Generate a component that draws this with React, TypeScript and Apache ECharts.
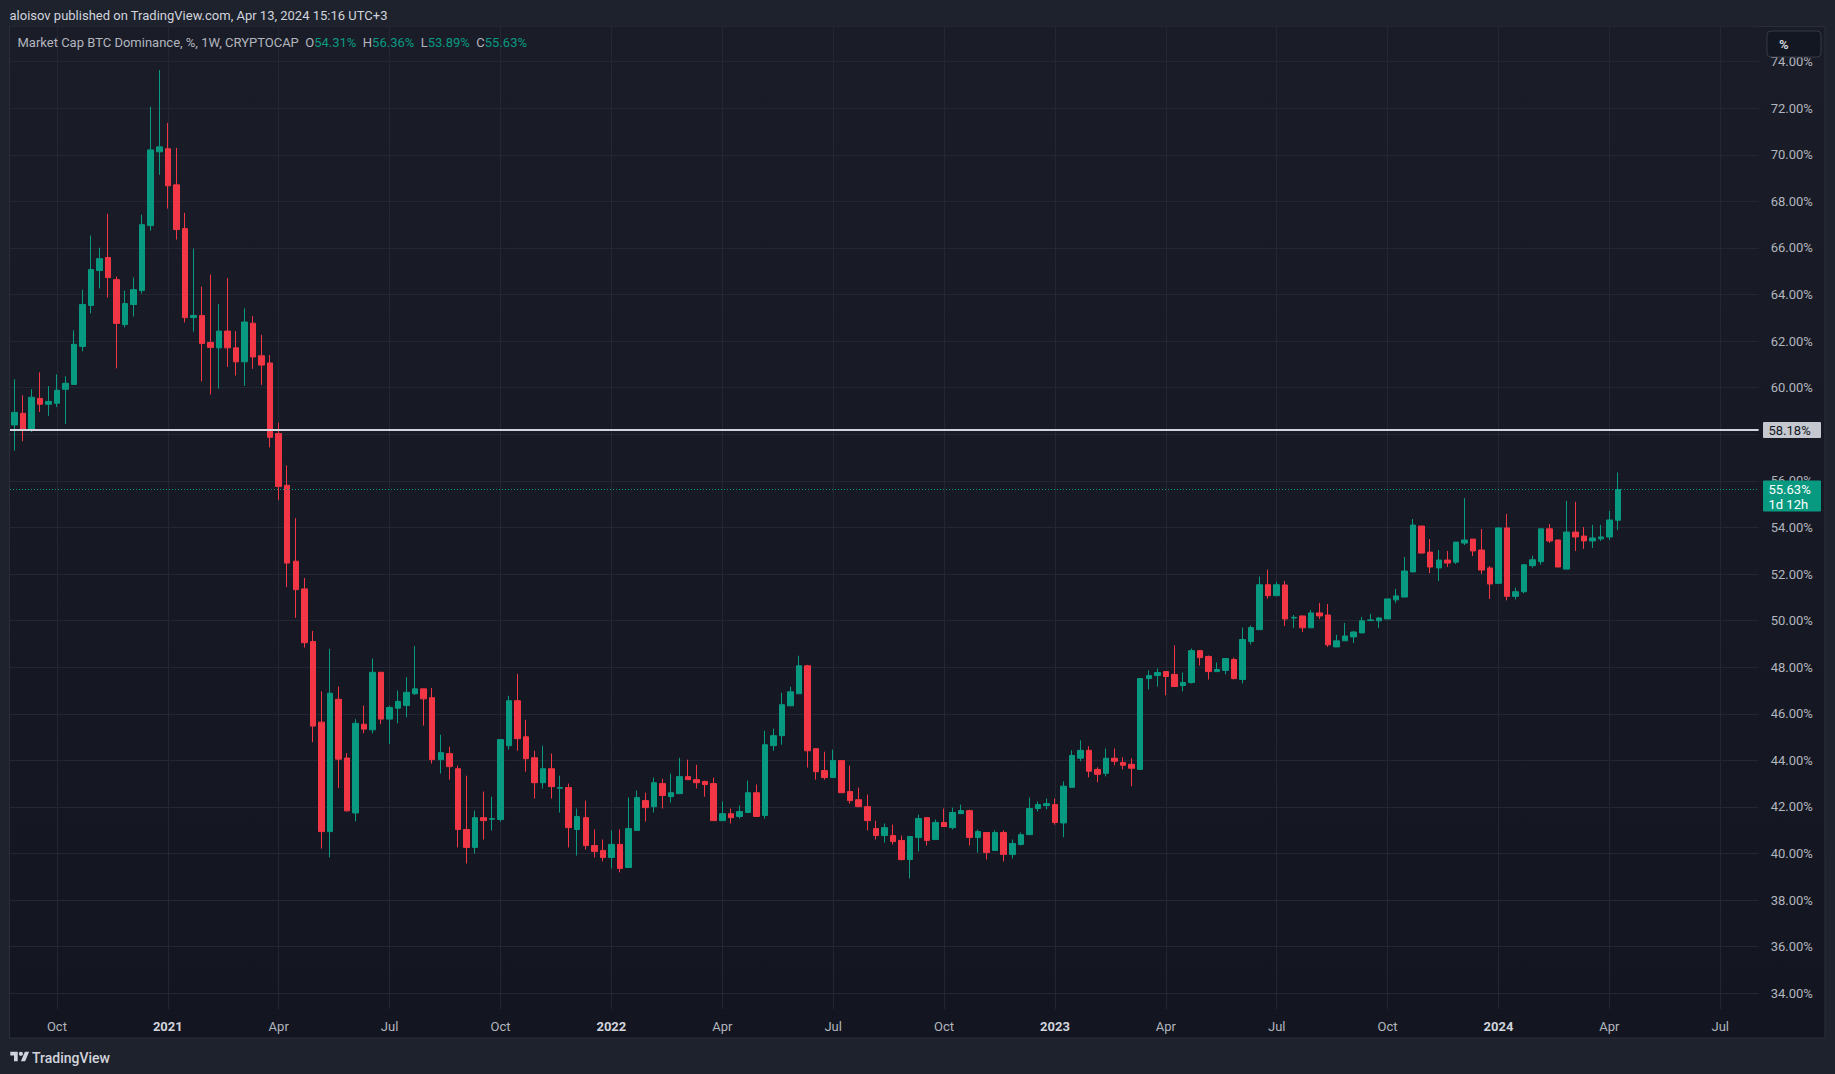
import React, { useEffect, useRef } from "react";
import * as echarts from "echarts";

// ---------- DATA ----------
const START_DATE_UTC = Date.UTC(2020, 7, 31); // first weekly bar (Mon, Aug 31 2020)
const WEEK_COUNT = 205; // bars + empty future weeks shown on the time scale

const opens = [
  58.40, 58.90, 58.17, 59.54, 59.29, 59.33, 59.93, 60.14, 61.77, 63.53,
  65.03, 65.59, 64.64, 62.71, 63.57, 64.17, 66.96, 70.13, 70.26, 68.71,
  66.83, 63.01, 63.10, 61.94, 61.71, 62.43, 61.71, 61.11, 62.77, 61.37,
  61.06, 58.03, 55.81, 52.55, 51.36, 49.10, 45.64, 40.94, 46.62, 44.10,
  41.74, 45.55, 45.31, 47.78, 45.77, 46.24, 46.35, 46.86, 47.07, 46.69,
  44.03, 44.29, 43.64, 41.03, 40.26, 41.54, 41.47, 41.46, 44.63, 46.56,
  45.01, 44.11, 43.04, 43.64, 42.80, 42.83, 41.03, 41.54, 40.34, 40.13,
  39.83, 40.39, 39.40, 40.99, 42.27, 42.01, 43.00, 42.44, 42.57, 43.30,
  43.17, 43.09, 43.00, 41.41, 41.71, 41.59, 41.76, 42.61, 41.63, 44.63,
  45.06, 46.34, 46.86, 48.06, 44.50, 43.56, 43.26, 43.99, 42.66, 42.31,
  42.01, 41.07, 40.77, 40.77, 40.56, 39.74, 40.69, 41.54, 40.60, 41.33,
  41.11, 41.71, 41.84, 40.69, 40.90, 40.13, 40.90, 39.96, 40.39, 40.81,
  41.93, 42.06, 42.10, 41.31, 42.84, 44.09, 44.43, 43.61, 43.44, 44.09,
  43.91, 43.83, 43.61, 47.51, 47.64, 47.81, 47.69, 47.21, 47.34, 48.71,
  48.46, 47.81, 47.86, 48.33, 47.47, 49.10, 49.61, 51.54, 51.07, 51.53,
  50.11, 50.20, 49.69, 50.33, 50.24, 48.87, 49.13, 49.30, 49.47, 50.00,
  49.99, 50.07, 50.89, 51.01, 52.09, 54.06, 52.94, 52.26, 52.60, 52.51,
  53.33, 53.50, 53.03, 52.26, 51.60, 53.98, 51.04, 51.24, 52.36, 52.53,
  53.94, 53.46, 52.21, 53.80, 53.63, 53.42, 53.51, 53.59, 54.31,
];

const highs = [
  60.36, 59.67, 59.93, 60.66, 60.06, 60.57, 60.49, 62.46, 64.21, 66.53,
  66.01, 67.47, 64.77, 64.17, 64.73, 67.43, 72.06, 73.64, 71.37, 70.30,
  67.51, 65.97, 64.34, 64.86, 63.59, 64.70, 62.43, 63.41, 63.07, 62.27,
  61.40, 58.50, 56.66, 54.40, 51.83, 49.56, 46.96, 48.79, 47.17, 44.31,
  45.77, 46.35, 48.37, 47.80, 46.35, 47.00, 47.57, 48.91, 47.07, 47.11,
  45.10, 44.59, 43.77, 43.34, 41.84, 42.66, 42.44, 44.89, 46.77, 47.71,
  45.74, 44.41, 44.63, 44.29, 43.34, 43.00, 41.93, 42.27, 41.03, 40.60,
  40.99, 41.03, 42.40, 42.70, 42.61, 43.26, 43.21, 43.43, 44.11, 44.03,
  43.81, 43.13, 43.26, 42.23, 41.93, 42.06, 43.13, 42.96, 45.27, 45.36,
  46.90, 47.16, 48.49, 48.10, 44.50, 44.37, 44.46, 44.00, 43.77, 42.83,
  42.53, 41.41, 41.29, 41.24, 40.77, 40.73, 41.67, 41.54, 41.46, 41.93,
  41.97, 42.10, 41.89, 41.03, 40.90, 40.99, 40.99, 40.60, 40.90, 42.40,
  42.23, 42.36, 42.36, 43.10, 44.43, 44.86, 44.60, 43.70, 44.51, 44.51,
  44.13, 44.09, 47.51, 47.86, 47.94, 47.81, 48.93, 47.77, 48.80, 48.71,
  48.50, 48.20, 48.37, 48.41, 49.70, 49.79, 51.89, 52.19, 51.67, 51.70,
  50.24, 50.20, 50.46, 50.76, 50.71, 49.39, 49.90, 49.56, 50.16, 50.29,
  50.16, 50.93, 51.36, 52.73, 54.36, 54.06, 53.50, 53.03, 52.99, 53.37,
  55.26, 53.50, 53.93, 52.34, 53.98, 54.58, 51.41, 52.40, 52.79, 53.94,
  54.15, 53.46, 55.14, 55.10, 54.02, 54.11, 54.11, 54.71, 56.36,
];

const lows = [
  57.30, 57.70, 58.10, 58.96, 58.79, 59.17, 58.44, 60.14, 61.56, 63.19,
  64.26, 63.87, 60.83, 62.59, 63.06, 64.04, 66.74, 69.14, 67.69, 66.36,
  62.80, 62.41, 60.27, 59.71, 59.96, 60.89, 60.52, 60.08, 60.81, 60.12,
  57.44, 55.17, 51.44, 50.12, 48.84, 44.78, 40.21, 39.83, 42.82, 41.80,
  41.38, 45.16, 45.16, 45.55, 44.70, 45.59, 45.85, 46.81, 45.49, 43.86,
  43.43, 43.17, 40.26, 39.57, 40.00, 40.60, 40.99, 41.37, 44.46, 44.41,
  43.51, 42.36, 42.79, 42.36, 41.76, 40.26, 39.91, 40.17, 39.83, 39.66,
  39.36, 39.19, 39.40, 40.99, 41.37, 41.76, 41.93, 42.19, 42.57, 43.17,
  42.79, 42.44, 41.41, 41.41, 41.29, 41.50, 41.76, 41.59, 41.50, 44.41,
  44.67, 46.34, 46.86, 43.69, 43.17, 43.17, 43.26, 42.61, 42.14, 42.01,
  40.99, 40.60, 40.47, 40.39, 39.70, 38.93, 40.09, 40.34, 40.60, 41.16,
  41.03, 41.71, 40.34, 40.04, 39.74, 40.13, 39.66, 39.79, 40.34, 40.81,
  41.80, 41.89, 41.24, 40.70, 42.84, 43.96, 43.27, 43.06, 43.31, 43.79,
  43.61, 42.89, 43.61, 47.04, 47.17, 46.79, 47.17, 46.96, 47.30, 48.07,
  47.47, 47.81, 47.69, 47.47, 47.30, 48.97, 49.61, 50.94, 51.07, 49.77,
  49.69, 49.51, 49.69, 50.07, 48.87, 48.87, 49.13, 49.04, 49.47, 50.00,
  49.69, 50.07, 50.76, 51.01, 52.09, 52.90, 52.04, 51.70, 52.30, 52.43,
  53.24, 52.77, 52.00, 50.93, 51.60, 50.87, 50.91, 51.17, 52.27, 52.40,
  53.33, 52.30, 52.21, 52.99, 53.08, 53.12, 53.42, 53.46, 53.89,
];

const closes = [
  58.94, 58.17, 59.59, 59.29, 59.41, 59.89, 60.19, 61.86, 63.57, 65.07,
  65.54, 64.73, 62.76, 63.61, 64.21, 67.00, 70.21, 70.34, 68.67, 66.79,
  63.01, 63.10, 61.90, 61.73, 62.43, 61.71, 61.11, 62.82, 61.32, 60.97,
  57.87, 55.76, 52.47, 51.33, 49.05, 45.47, 40.94, 46.88, 44.05, 41.83,
  45.59, 45.34, 47.78, 45.77, 46.27, 46.53, 46.92, 47.07, 46.64, 44.03,
  44.33, 43.73, 41.03, 40.26, 41.54, 41.41, 41.50, 44.89, 46.56, 44.93,
  44.07, 43.04, 43.64, 42.87, 42.83, 41.11, 41.59, 40.34, 40.09, 39.83,
  40.39, 39.36, 41.07, 42.40, 41.97, 43.04, 42.49, 42.61, 43.30, 43.17,
  43.04, 42.96, 41.41, 41.71, 41.54, 41.80, 42.61, 41.59, 44.67, 45.06,
  46.39, 46.94, 48.06, 44.41, 43.51, 43.26, 43.99, 42.61, 42.27, 42.01,
  41.41, 40.77, 41.11, 40.51, 39.74, 40.73, 41.50, 40.56, 41.33, 41.16,
  41.76, 41.84, 40.69, 40.94, 40.04, 40.90, 39.96, 40.43, 40.81, 41.93,
  42.10, 42.14, 41.33, 42.89, 44.21, 44.43, 43.53, 43.40, 44.09, 43.96,
  43.79, 43.66, 47.51, 47.64, 47.77, 47.60, 47.17, 47.34, 48.71, 48.41,
  47.81, 47.90, 48.37, 47.51, 49.19, 49.70, 51.54, 51.07, 51.54, 50.07,
  50.14, 49.69, 50.33, 50.20, 48.96, 49.13, 49.34, 49.51, 49.99, 50.03,
  50.11, 50.93, 51.06, 52.13, 54.10, 52.90, 52.30, 52.60, 52.47, 53.37,
  53.46, 52.99, 52.17, 51.57, 53.98, 51.04, 51.24, 52.40, 52.61, 53.94,
  53.42, 52.30, 53.80, 53.59, 53.42, 53.55, 53.59, 54.32, 55.63,
];

const horizontalLevel = 58.18;
const countdownText = "1d 12h";
const publishedText = "aloisov published on TradingView.com, Apr 13, 2024 15:16 UTC+3";
const symbolTitle = "Market Cap BTC Dominance, %, 1W, CRYPTOCAP";
const monthNames = ["Jan", "Feb", "Mar", "Apr", "May", "Jun", "Jul", "Aug", "Sep", "Oct", "Nov", "Dec"];
const quarterMonths = [1, 4, 7, 10];
const yMin = 33.28;
const yMax = 75.53;

// ---------- STYLE ----------
const FONT = "Roboto, 'Noto Sans', sans-serif";
const UP = "#089981";
const DOWN = "#f23645";
const OUTER_BG = "#1e222d";
const GRID = "#232733";
const AXIS_TEXT = "#b2b5be";
const TEXT = "#d1d4dc";
const PANE_BOTTOM = "#131620";

echarts.graphic.registerShape(
  "tvlogo",
  echarts.graphic.extendPath(
    "M14 22H7V11H0V4h14v18zM28 22h-8l7.5-18h8L28 22zM24 8a4 4 0 1 1-8 0a4 4 0 1 1 8 0z",
    {}
  )
);

const categories: string[] = [];
for (let i = 0; i < WEEK_COUNT; i++) {
  categories.push(new Date(START_DATE_UTC + i * 7 * 86400000).toISOString().slice(0, 10));
}

const isQuarterStart = (v: string) => {
  const m = +v.slice(5, 7);
  const d = +v.slice(8, 10);
  return d <= 7 && quarterMonths.includes(m);
};

const fmtPct = (v: number) => v.toFixed(2) + "%";

const candleData = opens.map((o, i) => [o, closes[i], lows[i], highs[i]]);
const last = opens.length - 1;

function baseGraphics(): any[] {
  return [
    {
      type: "rect",
      id: "pane",
      z: -10,
      silent: true,
      shape: { x: 9.5, y: 26.5, width: 1815.5, height: 1011.5 },
      style: {
        fill: new echarts.graphic.LinearGradient(0, 0, 0, 1, [
          { offset: 0, color: "#1a1d28" },
          { offset: 1, color: PANE_BOTTOM },
        ]),
        stroke: "#2a2e39",
        lineWidth: 1,
      },
    },
    {
      // hides the split line drawn at the axis extent (bottom edge of the plot)
      type: "rect",
      id: "bottomcover",
      z: 50,
      silent: true,
      shape: { x: 10, y: 1009, width: 1752, height: 2.5 },
      style: { fill: PANE_BOTTOM },
    },
    {
      type: "text",
      id: "published",
      z: 100,
      x: 9.5,
      y: 15,
      style: { text: publishedText, fill: TEXT, fontSize: 13, fontFamily: FONT, verticalAlign: "middle" },
    },
    {
      type: "text",
      id: "legend",
      z: 100,
      x: 17.5,
      y: 42,
      style: {
        text:
          `{a|${symbolTitle}}  {a|O}{g|${fmtPct(opens[last])}}  {a|H}{g|${fmtPct(highs[last])}}` +
          `  {a|L}{g|${fmtPct(lows[last])}}  {a|C}{g|${fmtPct(closes[last])}}`,
        fontSize: 13,
        fontFamily: FONT,
        verticalAlign: "middle",
        fill: AXIS_TEXT,
        rich: {
          a: { fill: AXIS_TEXT, fontSize: 13, fontFamily: FONT },
          g: { fill: UP, fontSize: 13, fontFamily: FONT },
        },
      },
    },
    {
      type: "rect",
      id: "pctbtn",
      z: 100,
      shape: { x: 1767, y: 31, width: 54, height: 26, r: 4 },
      style: { fill: "#131722", stroke: "#363a45", lineWidth: 1 },
    },
    {
      type: "text",
      id: "pcttxt",
      z: 101,
      x: 1779,
      y: 44,
      style: { text: "%", fill: TEXT, fontSize: 13, fontWeight: "bold", fontFamily: FONT, verticalAlign: "middle" },
    },
    {
      type: "tvlogo",
      id: "logo",
      z: 100,
      x: 10.3,
      y: 1049.6,
      scaleX: 0.53,
      scaleY: 0.53,
      style: { fill: TEXT },
    },
    {
      type: "text",
      id: "brand",
      z: 100,
      x: 32,
      y: 1058,
      style: { text: "TradingView", fill: TEXT, fontSize: 14, fontWeight: 500, fontFamily: FONT, verticalAlign: "middle" },
    },
  ];
}

function priceBoxes(yLevel: number, yClose: number): any[] {
  return [
    {
      type: "rect",
      id: "lvlbox",
      z: 110,
      shape: { x: 1763, y: yLevel - 8, width: 58, height: 16, r: 1 },
      style: { fill: "#c5c8cf" },
    },
    {
      type: "text",
      id: "lvltxt",
      z: 111,
      x: 1768.5,
      y: yLevel,
      style: { text: fmtPct(horizontalLevel), fill: "#131722", fontSize: 13, fontFamily: FONT, verticalAlign: "middle" },
    },
    {
      type: "rect",
      id: "closebox",
      z: 110,
      shape: { x: 1763, y: yClose - 9, width: 58, height: 31, r: 1 },
      style: { fill: UP },
    },
    {
      type: "text",
      id: "closetxt",
      z: 111,
      x: 1768.5,
      y: yClose,
      style: { text: fmtPct(closes[last]), fill: "#ffffff", fontSize: 13, fontFamily: FONT, verticalAlign: "middle" },
    },
    {
      type: "text",
      id: "cdtxt",
      z: 111,
      x: 1768.5,
      y: yClose + 15,
      style: { text: countdownText, fill: "#ffffff", fontSize: 13, fontFamily: FONT, verticalAlign: "middle" },
    },
  ];
}

export default function App() {
  const ref = useRef<HTMLDivElement>(null);

  useEffect(() => {
    document.body.style.margin = "0";
    document.body.style.background = OUTER_BG;
    if (!ref.current) return;
    const chart = echarts.init(ref.current, null, { renderer: "svg" });

    const option: any = {
      animation: false,
      backgroundColor: OUTER_BG,
      textStyle: { fontFamily: FONT },
      grid: { left: 10, top: 26, width: WEEK_COUNT * 8.53, height: 984, containLabel: false },
      xAxis: {
        type: "category",
        data: categories,
        boundaryGap: true,
        axisLine: { show: false },
        axisTick: { show: false },
        axisLabel: {
          interval: (_i: number, v: string) => isQuarterStart(v),
          formatter: (v: string) => {
            const m = +v.slice(5, 7);
            return m === 1 ? `{y|${v.slice(0, 4)}}` : `{m|${monthNames[m - 1]}}`;
          },
          margin: 10,
          color: AXIS_TEXT,
          fontSize: 13,
          fontFamily: FONT,
          rich: {
            y: { fontWeight: "bold", color: TEXT, fontSize: 13, fontFamily: FONT },
            m: { color: AXIS_TEXT, fontSize: 13, fontFamily: FONT },
          },
        },
        splitLine: {
          show: true,
          interval: (_i: number, v: string) => isQuarterStart(v),
          alignWithLabel: true,
          lineStyle: { color: GRID, width: 1 },
        },
      },
      yAxis: {
        type: "value",
        position: "right",
        min: yMin,
        max: yMax,
        splitNumber: 21,
        scale: true,
        axisLine: { show: false },
        axisTick: { show: false },
        axisLabel: {
          showMinLabel: false,
          showMaxLabel: false,
          align: "left",
          margin: 12,
          color: AXIS_TEXT,
          fontSize: 13,
          fontFamily: FONT,
          formatter: (v: number) => {
            const r = Math.round(v);
            // the level label box covers the tick label next to it
            if (Math.abs(v - horizontalLevel) < 0.5) return "";
            return Math.abs(v - r) < 1e-6 && r % 2 === 0 ? fmtPct(v) : "";
          },
        },
        splitLine: { show: true, lineStyle: { color: GRID, width: 1 } },
      },
      series: [
        {
          type: "candlestick",
          data: candleData,
          barWidth: 6,
          itemStyle: {
            color: UP,
            color0: DOWN,
            borderColor: UP,
            borderColor0: DOWN,
            borderWidth: 1,
          },
          markLine: {
            silent: true,
            symbol: ["none", "none"],
            label: { show: false },
            data: [
              { yAxis: horizontalLevel, lineStyle: { color: "#d1d4dc", width: 2, type: "solid" } },
              { yAxis: closes[last], lineStyle: { color: UP, width: 1, type: [1, 2] } },
            ],
          },
        },
      ],
      graphic: baseGraphics(),
    };

    chart.setOption(option);
    const yLevel = chart.convertToPixel({ yAxisIndex: 0 }, horizontalLevel) as number;
    const yClose = chart.convertToPixel({ yAxisIndex: 0 }, closes[last]) as number;
    chart.setOption({ graphic: [...baseGraphics(), ...priceBoxes(yLevel, yClose)] });

    return () => chart.dispose();
  }, []);

  return <div ref={ref} style={{ width: 1835, height: 1074 }} />;
}
